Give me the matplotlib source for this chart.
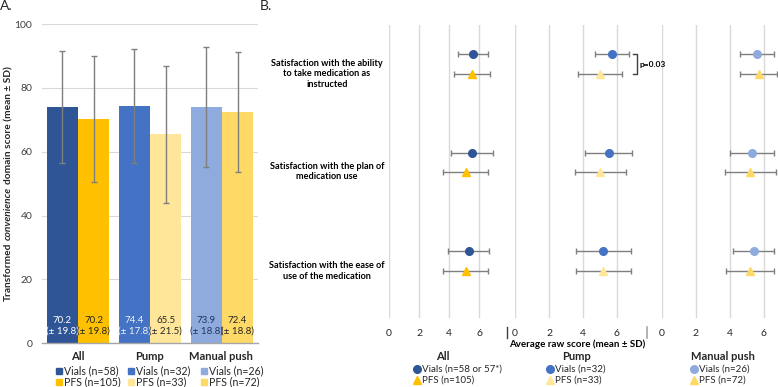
import matplotlib
matplotlib.use("Agg")
import matplotlib.pyplot as plt
import numpy as np

plt.rcParams['font.family'] = ['Lato', 'DejaVu Sans']

# ---------------- Data: panel A ----------------
groups = ["All", "Pump", "Manual push"]
vials_mean = [74.1, 74.4, 73.9]
vials_sd = [17.6, 17.8, 18.8]
pfs_mean = [70.2, 65.5, 72.4]
pfs_sd = [19.8, 21.5, 18.8]
vials_label_mean = ["70.2", "74.4", "73.9"]
vials_label_sd = ["19.8", "17.8", "18.8"]
pfs_label_mean = ["70.2", "65.5", "72.4"]
pfs_label_sd = ["19.8", "21.5", "18.8"]
vials_n = ["n=58", "n=32", "n=26"]
pfs_n = ["n=105", "n=33", "n=72"]
yticks_a = [0, 20, 40, 60, 80, 100]

# ---------------- Data: panel B ----------------
items = ["Satisfaction with the ability\nto take medication as\ninstructed",
         "Satisfaction with the plan of\nmedication use",
         "Satisfaction with the ease of\nuse of the medication"]
all_vials_mean = [5.6, 5.5, 5.3]
all_vials_sd = [1.0, 1.4, 1.35]
all_pfs_mean = [5.5, 5.1, 5.1]
all_pfs_sd = [1.2, 1.5, 1.5]
pump_vials_mean = [5.7, 5.5, 5.2]
pump_vials_sd = [1.0, 1.4, 1.6]
pump_pfs_mean = [5.0, 5.0, 5.2]
pump_pfs_sd = [1.3, 1.5, 1.6]
manual_vials_mean = [5.6, 5.3, 5.4]
manual_vials_sd = [1.0, 1.3, 1.2]
manual_pfs_mean = [5.7, 5.2, 5.2]
manual_pfs_sd = [1.1, 1.5, 1.4]
b_vials_n = ["n=58 or 57*", "n=32", "n=26"]
b_pfs_n = ["n=105", "n=33", "n=72"]
xticks_b = [0, 2, 4, 6]

vials_colors = ["#2F5597", "#4472C4", "#8FAADC"]
pfs_colors = ["#FFC000", "#FFE699", "#FFD966"]
vials_text_colors = ["white", "#F2F2F2", "#1F3864"]

W, H = 778, 387
fig = plt.figure(figsize=(W / 100, H / 100), dpi=100)


def rect(x0, y0, x1, y1):
    return [x0 / W, 1 - y1 / H, (x1 - x0) / W, (y1 - y0) / H]


# overlay for annotation text
ov = fig.add_axes([0, 0, 1, 1], zorder=5)
ov.set_xlim(0, W)
ov.set_ylim(H, 0)
ov.axis('off')

grid_c = "#D9D9D9"
err_c = "#7F7F7F"
txt_c = "#262626"

# ---------------- Panel A ----------------
axA = fig.add_axes(rect(42, 24, 258, 343.3))
x = np.arange(len(groups))
bw = 0.433
axA.bar(x - bw / 2, vials_mean, bw, color=vials_colors, zorder=2)
axA.bar(x + bw / 2, pfs_mean, bw, color=pfs_colors, zorder=2)
axA.errorbar(x - bw / 2, vials_mean, yerr=vials_sd, fmt='none', ecolor=err_c,
             elinewidth=1, capsize=2, capthick=1, zorder=3)
axA.errorbar(x + bw / 2, pfs_mean, yerr=pfs_sd, fmt='none', ecolor=err_c,
             elinewidth=1, capsize=2, capthick=1, zorder=3)
axA.set_xlim(-0.5, 2.5)
axA.set_ylim(0, 100)
axA.set_yticks(yticks_a)
axA.set_xticks([])
axA.tick_params(axis='y', length=0, pad=7, labelsize=7.5, labelcolor="#404040")
axA.grid(axis='y', color=grid_c, lw=0.8, zorder=0)
for s in ['top', 'right', 'left']:
    axA.spines[s].set_visible(False)
axA.spines['bottom'].set_color("#A6A6A6")
axA.spines['bottom'].set_linewidth(1)
for i in range(len(groups)):
    axA.text(x[i] - bw / 2, 5.5, f"{vials_label_mean[i]}\n(± {vials_label_sd[i]})",
             ha='center', va='center', fontsize=7, color=vials_text_colors[i],
             linespacing=1.25, zorder=4)
    axA.text(x[i] + bw / 2, 5.5, f"{pfs_label_mean[i]}\n(± {pfs_label_sd[i]})",
             ha='center', va='center', fontsize=7, color=txt_c,
             linespacing=1.25, zorder=4)

# category labels and legend, panel A
a_centers = [78, 149.5, 221]
a_sq = [59.3, 131, 204]
for i, g in enumerate(groups):
    ov.text(a_centers[i], 356.5, g, ha='center', va='center', fontsize=8,
            fontweight='bold', color=txt_c)
    ov.plot([a_sq[i]], [371], marker='s', ms=4.5, color=vials_colors[i], ls='none')
    ov.plot([a_sq[i]], [381.5], marker='s', ms=4.5, color=pfs_colors[i], ls='none')
    ov.text(a_sq[i] + 5, 371, f"Vials ({vials_n[i]})", ha='left', va='center',
            fontsize=7.6, color=txt_c)
    ov.text(a_sq[i] + 5, 381.5, f"PFS ({pfs_n[i]})", ha='left', va='center',
            fontsize=7.6, color=txt_c)

# y label with italic word
fig.canvas.draw()
renderer = fig.canvas.get_renderer()
pieces = [("Transformed", 'normal'), ("convenience", 'italic'),
          ("domain score (mean ± SD)", 'normal')]
ylab_fs = 7.3
tmp = ov.text(0, 0, "a a", fontsize=ylab_fs, fontweight='bold')
w1 = tmp.get_window_extent(renderer).width
tmp.set_text("aa")
w2 = tmp.get_window_extent(renderer).width
tmp.remove()
space_w = w1 - w2
widths = []
for t, st in pieces:
    tt = ov.text(0, 0, t, fontsize=ylab_fs, fontweight='bold', style=st)
    widths.append(tt.get_window_extent(renderer).width)
    tt.remove()
total = sum(widths) + space_w * (len(pieces) - 1)
ycen = 183.5
ypos = ycen + total / 2
for (t, st), w in zip(pieces, widths):
    ov.text(8.5, ypos, t, fontsize=ylab_fs, fontweight='bold', style=st,
            rotation=90, rotation_mode='anchor', ha='left', va='center', color=txt_c)
    ypos -= w + space_w

ov.text(0, 6, "A.", fontsize=10, ha='left', va='center', color=txt_c)
ov.text(260, 6, "B.", fontsize=10, ha='left', va='center', color=txt_c)

# ---------------- Panel B ----------------
sections = [
    (389, 507, 15, all_vials_mean, all_vials_sd, all_pfs_mean, all_pfs_sd),
    (515, 647, 17, pump_vials_mean, pump_vials_sd, pump_pfs_mean, pump_pfs_sd),
    (661.7, 778, 17, manual_vials_mean, manual_vials_sd, manual_pfs_mean, manual_pfs_sd),
]
rows = np.arange(len(items))
off = 0.1
axes_b = []
for k, (x0, x1, ppu, vm, vs, pm, ps) in enumerate(sections):
    ax = fig.add_axes(rect(x0, 25, x1, 318))
    ax.patch.set_visible(False)
    ax.set_xlim(0, (x1 - x0) / ppu)
    ax.set_ylim(2.58, -0.4)
    ax.set_xticks(xticks_b)
    ax.set_yticks([])
    ax.tick_params(axis='x', length=0, pad=8, labelsize=7.5, labelcolor=txt_c)
    ax.grid(axis='x', color=grid_c, lw=1, zorder=0)
    for s in ax.spines.values():
        s.set_visible(False)
    ax.errorbar(vm, rows - off, xerr=vs, fmt='o', color=vials_colors[k], ms=5.5,
                ecolor=err_c, elinewidth=1, capsize=2.2, capthick=1, zorder=3,
                clip_on=False)
    ax.errorbar(pm, rows + off, xerr=ps, fmt='^', color=pfs_colors[k], ms=6,
                ecolor=err_c, elinewidth=1, capsize=2.2, capthick=1, zorder=3,
                clip_on=False)
    axes_b.append(ax)

# p-value bracket on pump section, first item
axp = axes_b[1]
bx0, bx1 = 6.92, 7.2
axp.plot([bx0, bx1, bx1, bx0], [rows[0] - off, rows[0] - off, rows[0] + off, rows[0] + off],
         color="#404040", lw=1, clip_on=False, zorder=4)
# p-value text placed in overlay so no later axes hides it
px_p = 515 + 7.3 * 17
py_p = 25 + (rows[0] + 0.4) * (318 - 25) / 2.98
ov.text(px_p, py_p, "p=0.03", fontsize=6, fontweight='bold', ha='left',
        va='center', color="black")

# item labels
item_y = [74, 171.5, 271]
for t, yy in zip(items, item_y):
    ov.text(327, yy, t, ha='center', va='center', fontsize=6.6, fontweight='bold',
            color="black", linespacing=1.25)

# separators
ov.plot([506.8, 506.8], [327, 338], color="#404040", lw=1)
ov.plot([647.3, 647.3], [327, 338], color="#A6A6A6", lw=1.2)

ov.text(576.7, 344, "Average raw score (mean ± SD)", ha='center', va='center',
        fontsize=7, fontweight='bold', color="black")

b_centers = [443, 576.7, 723]
b_mk = [417, 550, 694]
for i, g in enumerate(groups):
    ov.text(b_centers[i], 357, g, ha='center', va='center', fontsize=8,
            fontweight='bold', color=txt_c)
    ov.plot([b_mk[i]], [369], marker='o', ms=5.5, color=vials_colors[i], ls='none')
    ov.plot([b_mk[i]], [379.5], marker='^', ms=6, color=pfs_colors[i], ls='none')
    ov.text(b_mk[i] + 5.5, 369.5, f"Vials ({b_vials_n[i]})", ha='left', va='center',
            fontsize=7, color=txt_c)
    ov.text(b_mk[i] + 5.5, 380.5, f"PFS ({b_pfs_n[i]})", ha='left', va='center',
            fontsize=7, color=txt_c)

fig.savefig("out.png", dpi=100)
